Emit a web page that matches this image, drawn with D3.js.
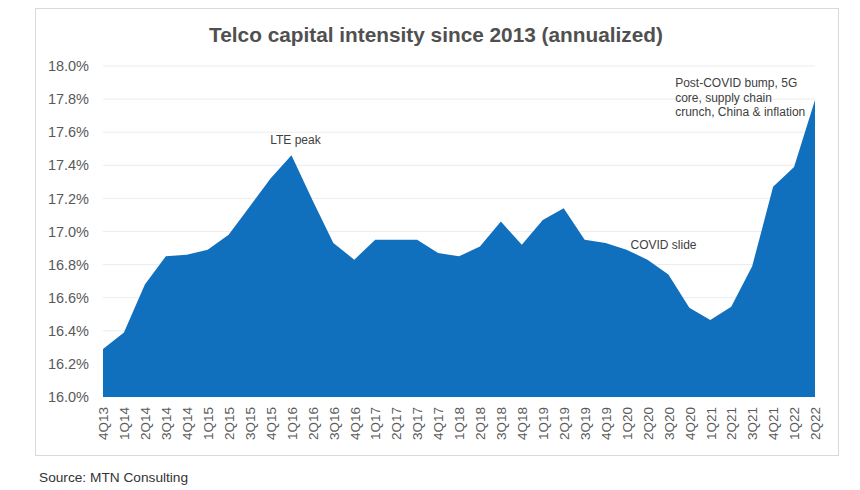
<!DOCTYPE html>
<html lang="en">
<head>
<meta charset="UTF-8">
<title>Telco capital intensity</title>
<style>
    body { margin: 0; padding: 0; background: #fff; overflow: hidden; }
    svg { font-family: "Liberation Sans", Arial, sans-serif; }
</style>
</head>
<body>
<svg id="chart" width="860" height="490"></svg>
<script src="https://cdn.jsdelivr.net/npm/d3@7"></script>
<script>
    // quarters on the x axis
    const quarters = ["4Q13", "1Q14", "2Q14", "3Q14", "4Q14", "1Q15", "2Q15", "3Q15", "4Q15",
        "1Q16", "2Q16", "3Q16", "4Q16", "1Q17", "2Q17", "3Q17", "4Q17", "1Q18", "2Q18", "3Q18",
        "4Q18", "1Q19", "2Q19", "3Q19", "4Q19", "1Q20", "2Q20", "3Q20", "4Q20", "1Q21", "2Q21",
        "3Q21", "4Q21", "1Q22", "2Q22"];
    // capital intensity, percent
    const intensity = [16.29, 16.39, 16.68, 16.85, 16.86, 16.89, 16.98, 17.15, 17.32,
        17.46, 17.19, 16.93, 16.83, 16.95, 16.95, 16.95, 16.87, 16.85, 16.91, 17.06,
        16.92, 17.07, 17.14, 16.95, 16.93, 16.89, 16.83, 16.74, 16.54, 16.465, 16.545,
        16.79, 17.27, 17.39, 17.795];
    const yTicks = [16.0, 16.2, 16.4, 16.6, 16.8, 17.0, 17.2, 17.4, 17.6, 17.8, 18.0];
    const notes = [
        {at: "1Q16", value: 17.46, lines: ["LTE peak"], anchor: "middle", dx: 4, dy: -11},
        {at: "1Q20", value: 17.0, lines: ["COVID slide"], anchor: "start", dx: 4, dy: 17.5},
        {at: "3Q21", value: 17.95, lines: ["Post-COVID bump, 5G", "core, supply chain", "crunch, China & inflation"], anchor: "start", dx: -77, dy: 13, gap: 14.5}
    ];

    const svg = d3.select("#chart");
    const m = {left: 103, right: 815, top: 66, bottom: 397};

    // outer frame
    svg.append("rect")
        .attr("x", 35.5).attr("y", 8.5).attr("width", 803).attr("height", 447)
        .attr("fill", "#fff").attr("stroke", "#d9d9d9");

    svg.append("text")
        .attr("x", 436).attr("y", 42)
        .attr("text-anchor", "middle")
        .attr("font-size", 20.8).attr("font-weight", "bold")
        .attr("fill", "#505050")
        .text("Telco capital intensity since 2013 (annualized)");

    const x = d3.scalePoint().domain(quarters).range([m.left, m.right]);
    const y = d3.scaleLinear().domain([16, 18]).range([m.bottom, m.top]);

    // gridlines
    svg.append("g")
        .selectAll("line")
        .data(yTicks.slice(1))
        .join("line")
        .attr("x1", m.left).attr("x2", m.right)
        .attr("y1", d => y(d)).attr("y2", d => y(d))
        .attr("stroke", "#ececec").attr("stroke-width", 1);

    const area = d3.area()
        .x((d, i) => x(quarters[i]))
        .y0(y(16))
        .y1(d => y(d));

    svg.append("path")
        .datum(intensity)
        .attr("d", area)
        .attr("fill", "#1170be");

    // y axis
    const yAxis = svg.append("g")
        .attr("transform", `translate(${m.left},0)`)
        .call(d3.axisLeft(y).tickValues(yTicks).tickFormat(d => d.toFixed(1) + "%").tickSize(0).tickPadding(14));
    yAxis.select(".domain").remove();
    yAxis.selectAll("text").attr("font-size", 14.5).attr("fill", "#595959").attr("font-family", "Liberation Sans, Arial, sans-serif");

    // x axis
    const xAxis = svg.append("g")
        .attr("transform", `translate(0,${m.bottom})`)
        .call(d3.axisBottom(x).tickSize(0).tickPadding(0));
    xAxis.select(".domain").remove();
    xAxis.selectAll("text")
        .attr("font-size", 13.5).attr("fill", "#595959")
        .attr("font-family", "Liberation Sans, Arial, sans-serif")
        .attr("transform", "rotate(-90)")
        .attr("text-anchor", "end")
        .attr("x", -10).attr("y", 0).attr("dy", "0.35em");

    // annotations
    notes.forEach(n => {
        const t = svg.append("text")
            .attr("x", x(n.at) + n.dx).attr("y", y(n.value) + n.dy)
            .attr("text-anchor", n.anchor)
            .attr("font-size", 12).attr("fill", "#404040");
        n.lines.forEach((l, i) => {
            t.append("tspan").attr("x", x(n.at) + n.dx).attr("dy", i === 0 ? 0 : (n.gap || 14)).text(l);
        });
    });

    svg.append("text")
        .attr("x", 39).attr("y", 482)
        .attr("font-size", 13.7).attr("fill", "#333")
        .text("Source: MTN Consulting");
</script>
</body>
</html>
